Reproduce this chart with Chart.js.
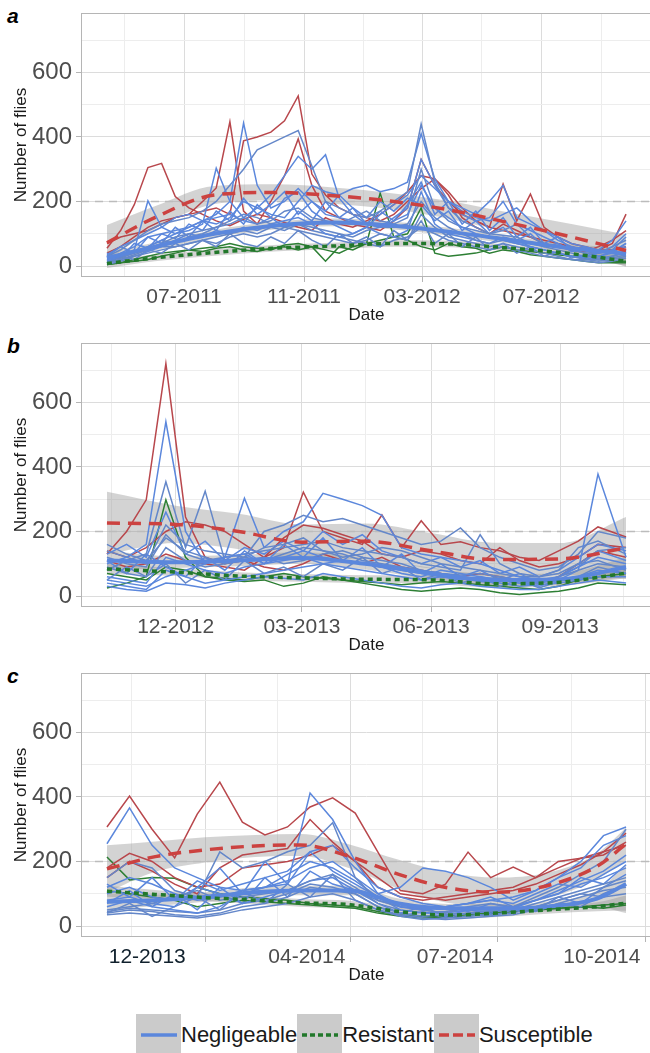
<!DOCTYPE html>
<html>
<head>
<meta charset="utf-8">
<script src="https://cdn.jsdelivr.net/npm/chart.js@4.4.0/dist/chart.umd.min.js"></script>
<style>
  html, body { margin: 0; padding: 0; background: #fff; overflow: hidden; }
  body { width: 650px; height: 1053px; position: relative; font-family: "Liberation Sans", Arial, sans-serif; }
  canvas.panel { position: absolute; left: 0; }
  .tag { position: absolute; left: 7px; font: bold italic 21px "Liberation Sans", Arial, sans-serif; color: #000; line-height: 21px; }
  #legend { position: absolute; left: 136px; top: 1014px; display: flex; align-items: center; font-size: 22px; color: #1a1a1a; }
  #legend .key { width: 45px; height: 42px; background: #cbcbcb; }
  #legend span { line-height: 42px; }
</style>
</head>
<body>
<div class="tag" style="top:5px">a</div>
<div class="tag" style="top:335px">b</div>
<div class="tag" style="top:665px">c</div>
<canvas id="pa" class="panel" width="656" height="330" style="top:0"></canvas>
<canvas id="pb" class="panel" width="656" height="330" style="top:330px"></canvas>
<canvas id="pc" class="panel" width="656" height="330" style="top:660px"></canvas>
<div id="legend">
  <div class="key"><svg width="45" height="42"><line x1="5" x2="41" y1="21" y2="21" stroke="#5b87dc" stroke-width="3.5"/></svg></div><span>Negligeable</span>
  <div class="key"><svg width="45" height="42"><line x1="5" x2="41" y1="21" y2="21" stroke="#22782b" stroke-width="3.5" stroke-dasharray="5 3"/></svg></div><span>Resistant</span>
  <div class="key"><svg width="45" height="42"><line x1="5" x2="41" y1="21" y2="21" stroke="#cc4240" stroke-width="3.5" stroke-dasharray="10 4"/></svg></div><span>Susceptible</span>
</div>
<script>
// ---------- panel a : 2011-2012 ----------
const datesA = ['2011-04-13','2011-04-27','2011-05-11','2011-05-25','2011-06-08','2011-06-22','2011-07-06','2011-07-20',
  '2011-08-03','2011-08-17','2011-08-31','2011-09-14','2011-09-28','2011-10-12','2011-10-26','2011-11-09','2011-11-23',
  '2011-12-07','2011-12-21','2012-01-04','2012-01-18','2012-02-01','2012-02-15','2012-02-29','2012-03-14','2012-03-28',
  '2012-04-11','2012-04-25','2012-05-09','2012-05-23','2012-06-06','2012-06-20','2012-07-04','2012-07-18','2012-08-01',
  '2012-08-15','2012-08-29','2012-09-12','2012-09-26'];
const susA = [
  [55,110,190,305,318,215,180,160,140,125,145,160,150,135,120,110,150,130,120,140,160,190,230,280,270,220,150,120,100,130,110,90,70,60,50,45,60,80,110],
  [40,60,90,120,140,150,160,200,242,447,170,130,200,280,394,250,170,150,130,120,110,140,180,330,250,200,160,140,120,254,140,223,120,90,70,60,50,50,60],
  [70,90,100,110,130,150,160,170,180,160,388,400,415,450,527,285,220,180,160,150,140,160,200,240,270,230,180,140,120,110,100,90,80,70,60,50,50,70,161]
];
const negA = [
  [20,40,60,90,100,110,120,140,160,200,443,250,180,200,240,200,160,150,140,130,120,140,160,250,180,150,120,100,90,80,70,60,50,40,30,30,40,50,60],
  [30,50,80,110,130,140,150,170,200,250,300,360,380,400,420,310,200,180,160,150,170,200,230,440,260,180,140,120,100,110,130,90,70,60,50,40,40,60,80],
  [15,30,50,202,120,100,110,130,303,200,150,180,220,280,340,300,345,210,160,130,120,150,180,330,250,180,160,140,150,200,130,110,90,70,50,40,30,40,70],
  [10,20,35,50,70,90,100,110,120,130,150,130,140,170,180,150,140,130,150,170,140,130,150,300,180,140,120,110,100,95,90,70,60,50,40,30,25,30,40],
  [25,35,45,60,80,100,120,140,150,160,140,130,150,210,230,170,140,120,100,120,160,190,220,280,240,200,180,160,200,250,150,130,110,80,60,50,40,50,90],
  [5,15,30,40,50,60,70,80,90,100,110,100,120,110,130,120,110,100,90,110,120,120,130,200,150,120,100,80,70,80,70,60,50,40,30,20,15,20,30],
  [35,60,80,100,120,150,160,140,130,150,200,180,160,150,200,250,230,220,240,250,230,240,260,410,270,200,170,150,140,160,180,140,110,90,70,60,50,80,140],
  [15,25,40,60,80,70,90,100,120,140,160,150,130,120,110,100,90,80,70,80,100,90,80,160,120,90,80,70,60,70,60,50,40,30,20,20,20,25,35],
  [10,20,30,45,60,80,100,90,110,100,120,110,130,140,150,130,100,90,100,120,100,90,110,230,130,100,90,80,70,90,80,60,50,40,30,25,20,30,50],
  [20,30,40,50,60,60,70,80,70,90,100,90,100,120,130,110,100,90,80,70,60,80,90,120,100,80,70,60,50,60,50,40,30,25,20,15,10,15,25],
  [30,60,40,90,70,120,90,140,110,170,130,190,150,120,170,140,200,150,180,130,170,140,190,260,160,200,130,170,110,150,90,120,70,90,50,60,40,60,100],
  [10,30,20,50,40,70,50,80,60,100,70,60,90,70,110,80,60,100,70,90,60,110,80,140,70,100,60,90,50,70,40,60,30,45,25,35,20,30,45],
  [40,25,70,55,100,85,130,110,170,140,210,160,190,230,160,200,170,220,180,150,200,170,210,190,140,170,110,140,100,120,80,100,60,70,45,50,30,45,70]
];
const resA = [
  [5,10,15,20,30,40,50,45,55,60,50,45,55,60,50,60,15,60,50,70,226,90,80,60,50,70,60,55,40,50,45,35,30,25,20,15,10,10,10],
  [5,10,20,30,40,45,50,55,60,70,60,55,50,65,70,60,50,40,60,70,80,90,100,180,40,30,35,40,50,60,50,45,40,35,30,25,20,15,15]
];
const fitDatesA = ['2011-04-13','2011-06-01','2011-08-01','2011-10-01','2011-12-01','2012-02-01','2012-04-01','2012-06-01','2012-08-01','2012-09-26'];
const fitSusA = [72,150,220,228,218,200,172,132,90,48];
const upSusA  = [127,185,248,253,243,225,200,164,130,98];
const loSusA  = [17,115,192,203,193,175,144,100,50,-2];
const fitNegA = [25,60,100,125,135,125,105,80,55,38];
const upNegA  = [45,72,112,137,147,137,117,92,67,58];
const loNegA  = [5,48,88,113,123,113,93,68,43,18];
const fitResA = [8,25,42,55,62,70,68,55,38,15];
const upResA  = [22,35,52,65,72,80,78,65,48,29];
const loResA  = [-6,15,32,45,52,60,58,45,28,1];
const majorDatesA = ['2011-07-01','2011-11-01','2012-03-01','2012-07-01'];
const minorDatesA = ['2011-05-01','2011-09-01','2012-01-01','2012-05-01','2012-09-01'];
const labelDatesA = majorDatesA;
const labelsA = ['07-2011','11-2011','03-2012','07-2012'];

// ---------- panel b : 2012-2013 ----------
const datesB = ['2012-10-13','2012-10-27','2012-11-10','2012-11-24','2012-12-08','2012-12-22','2013-01-05','2013-01-19',
  '2013-02-02','2013-02-16','2013-03-02','2013-03-16','2013-03-30','2013-04-13','2013-04-27','2013-05-11','2013-05-25',
  '2013-06-08','2013-06-22','2013-07-06','2013-07-20','2013-08-03','2013-08-17','2013-08-31','2013-09-14','2013-09-28','2013-10-18'];
const susB = [
  [130,200,298,720,245,120,100,110,90,80,100,130,110,100,120,90,80,70,60,70,60,50,40,60,100,140,120],
  [140,120,150,200,230,220,200,160,120,150,322,200,180,160,251,150,233,160,168,150,140,120,110,140,170,214,183],
  [110,90,100,130,110,100,90,80,120,180,220,210,190,170,130,120,140,130,110,100,150,110,90,100,120,160,150]
];
const negB = [
  [100,120,160,540,200,100,120,130,100,120,140,120,110,100,90,80,70,60,50,60,50,40,40,50,60,80,70],
  [80,110,130,354,150,325,110,120,150,160,180,140,130,110,100,90,80,70,60,50,60,50,40,60,80,100,90],
  [50,40,30,60,80,100,120,303,150,200,230,318,300,280,250,150,130,120,110,100,80,60,50,60,90,120,100],
  [160,130,110,180,140,120,100,120,200,220,250,230,240,220,200,180,160,170,211,150,120,100,80,90,130,200,180],
  [40,30,20,80,60,40,50,60,70,80,90,100,110,100,90,70,60,80,70,60,50,40,30,50,80,378,120],
  [120,100,90,190,130,110,120,130,140,150,160,170,150,140,130,120,100,90,80,190,100,70,60,80,150,170,130],
  [30,20,15,40,35,25,40,50,60,55,50,70,60,50,40,30,25,35,40,30,25,20,20,30,40,50,40],
  [140,120,100,220,160,140,130,120,110,130,150,140,120,130,150,140,120,100,90,80,70,60,60,70,100,140,150],
  [60,50,40,120,100,80,70,90,100,110,120,100,90,80,70,60,50,60,55,45,40,30,35,40,50,60,60],
  [90,70,60,150,110,90,100,110,120,100,110,130,140,120,110,100,80,70,65,70,60,50,45,60,100,110,80],
  [110,70,130,90,60,120,80,140,100,160,120,180,110,150,90,130,70,100,60,80,50,70,40,60,90,140,110],
  [50,90,60,100,40,80,50,110,70,90,60,100,80,120,70,90,50,70,40,60,30,50,25,45,60,90,70],
  [130,160,120,260,130,170,110,150,130,170,140,200,160,190,140,120,100,120,90,110,70,90,60,80,120,160,140]
];
const resB = [
  [25,40,60,298,120,60,50,45,50,30,40,60,50,40,30,20,15,20,25,20,10,5,10,15,25,40,35],
  [70,60,50,90,80,60,55,50,60,70,60,55,50,45,40,35,40,45,40,35,30,25,20,30,50,60,70]
];
const fitDatesB = ['2012-10-13','2012-12-01','2013-01-15','2013-03-01','2013-04-15','2013-06-01','2013-07-15','2013-09-01','2013-10-18'];
const fitSusB = [226,222,200,167,170,140,113,115,149];
const upSusB  = [323,280,255,222,225,195,165,164,245];
const loSusB  = [129,164,145,112,115,85,61,66,53];
const fitNegB = [110,105,110,118,100,70,50,52,90];
const upNegB  = [140,123,128,136,118,88,68,70,120];
const loNegB  = [80,87,92,100,82,52,32,34,60];
const fitResB = [84,74,62,56,52,50,38,43,71];
const upResB  = [100,86,74,68,64,62,50,55,87];
const loResB  = [68,62,50,44,40,38,26,31,55];
const majorDatesB = ['2012-12-01','2013-03-01','2013-06-01','2013-09-01'];
const minorDatesB = ['2012-10-16','2013-01-15','2013-04-15','2013-07-16','2013-10-16'];
const labelDatesB = majorDatesB;
const labelsB = ['12-2012','03-2013','06-2013','09-2013'];

// ---------- panel c : 2013-2014 ----------
const datesC = ['2013-11-01','2013-11-15','2013-11-29','2013-12-13','2013-12-27','2014-01-10','2014-01-24','2014-02-07',
  '2014-02-21','2014-03-07','2014-03-21','2014-04-04','2014-04-18','2014-05-02','2014-05-16','2014-05-30','2014-06-13',
  '2014-06-27','2014-07-11','2014-07-25','2014-08-08','2014-08-22','2014-09-05','2014-09-19'];
const susC = [
  [307,403,300,211,347,446,322,282,307,369,397,350,230,110,100,130,229,150,183,150,180,210,230,288],
  [180,225,200,150,120,130,180,190,200,220,250,200,120,90,80,90,100,110,120,150,200,210,220,260],
  [150,200,170,130,100,180,220,230,240,330,260,200,150,100,90,80,90,100,110,130,160,190,230,250]
];
const negC = [
  [255,366,250,180,150,120,110,120,130,412,330,200,100,60,50,60,70,80,90,110,150,200,280,307],
  [150,200,180,110,90,230,180,200,230,250,320,150,80,60,50,40,60,70,60,90,120,160,200,300],
  [60,80,60,50,40,60,100,120,160,200,180,140,90,50,40,40,50,50,60,80,100,130,150,180],
  [40,50,45,35,30,40,60,70,90,120,110,100,60,30,20,25,30,35,40,60,80,100,120,140],
  [100,120,90,80,140,110,130,150,170,230,250,180,120,90,70,60,70,80,70,100,130,120,160,200],
  [50,60,70,90,110,80,90,100,110,140,160,120,70,50,40,45,55,50,50,70,90,110,130,150],
  [120,150,130,100,80,90,110,120,140,180,200,150,100,120,180,170,150,120,80,110,150,180,250,280],
  [35,40,35,30,25,35,50,60,70,90,100,80,50,35,25,20,25,30,35,50,70,90,110,120],
  [80,90,70,60,120,100,70,90,110,140,150,110,80,60,55,60,70,90,60,80,110,140,170,220],
  [45,55,50,45,40,50,70,80,100,130,120,100,60,40,30,35,40,45,50,60,80,100,90,100],
  [70,110,60,100,50,120,70,150,90,170,130,110,70,40,60,30,50,40,60,50,90,70,120,160],
  [40,70,30,60,90,50,110,70,130,90,160,80,50,30,45,25,40,30,50,45,70,60,100,130],
  [130,90,150,80,120,180,100,200,130,230,170,130,90,70,50,60,45,70,55,80,100,150,130,190]
];
const resC = [
  [214,143,150,148,120,100,90,85,80,70,65,60,45,35,30,30,35,40,45,50,55,60,55,65],
  [110,100,90,80,60,70,80,75,70,65,60,55,40,30,25,28,30,40,45,50,55,60,65,70]
];
const fitDatesC = ['2013-11-01','2013-12-01','2014-01-01','2014-02-01','2014-03-01','2014-04-01','2014-05-01','2014-06-01',
  '2014-07-01','2014-08-01','2014-09-01','2014-09-19'];
const fitSusC = [177,215,236,248,251,215,160,118,105,125,185,254];
const upSusC  = [250,262,275,282,285,252,205,165,150,165,225,305];
const loSusC  = [104,168,197,214,217,178,115,71,60,85,145,203];
const fitNegC = [75,80,90,105,110,110,70,55,55,60,85,130];
const upNegC  = [100,98,105,120,125,125,85,68,68,75,110,190];
const loNegC  = [50,62,75,90,95,95,55,42,42,45,60,40];
const fitResC = [108,98,88,80,72,66,45,34,40,50,60,71];
const upResC  = [125,112,100,92,84,78,57,46,52,62,74,95];
const loResC  = [91,84,76,68,60,54,33,22,28,38,46,47];
const majorDatesC = ['2014-01-01','2014-04-01','2014-07-01','2014-10-01'];
const minorDatesC = ['2013-11-16','2014-02-15','2014-05-16','2014-08-16'];
const labelDatesC = ['2013-11-26','2014-03-05','2014-06-05','2014-09-04'];
const labelsC = ['12-2013','04-2014','07-2014','10-2014'];

const yTicks = [0, 100, 200, 300, 400, 500, 600, 700];
const threshold = 200;

// ---------- drawing ----------
const FONT = '"Liberation Sans", Arial, sans-serif';
const BLUE = '#5b87dc', BLUE2 = '#6487c9', RED = '#b8474c', GREEN = '#2d7f34';

function day(s) {
  const [y, m, d] = s.split('-').map(Number);
  return Date.UTC(y, m - 1, d) / 864e5;
}

const frame = {
  id: 'frame',
  afterDraw(chart) {
    const { ctx, chartArea: a } = chart;
    ctx.save();
    ctx.strokeStyle = '#b5b5b5';
    ctx.lineWidth = 1;
    ctx.strokeRect(a.left + 0.5, a.top + 0.5, a.width - 1, a.height - 1);
    ctx.restore();
  }
};

function panel(id, p) {
  const first = day(p.dates[0]), last = day(p.dates[p.dates.length - 1]);
  const pad = (last - first) * 0.05;
  const xMin = first - pad, xMax = last + pad;
  const pts = (dates, vals) => vals.map((v, i) => ({ x: day(dates[i]), y: v }));

  // x ticks: majors (grid + tick mark), minors (grid), labels (may sit apart from majors)
  const ticks = [];
  p.major.forEach(d => ticks.push({ v: day(d), kind: 'major', text: '' }));
  p.minor.forEach(d => ticks.push({ v: day(d), kind: 'minor', text: '' }));
  p.labelDates.forEach((d, i) => {
    const t = ticks.find(t => t.v === day(d));
    if (t) t.text = p.labels[i];
    else ticks.push({ v: day(d), kind: 'label', text: p.labels[i] });
  });
  ticks.sort((a, b) => a.v - b.v);

  const ds = [];
  const line = (data, color, width, dash, order, smooth) => ({
    data, borderColor: color, borderWidth: width, borderDash: dash || [], order,
    pointRadius: 0, fill: false, tension: 0,
    cubicInterpolationMode: smooth ? 'monotone' : 'default'
  });
  ds.push(line(pts(p.fitDates, p.fitSus), '#cc4240', 3.5, [13, 8], 0, true));
  ds.push(line(pts(p.fitDates, p.fitRes), '#22782b', 3.5, [5, 4], 1, true));
  ds.push(line(pts(p.fitDates, p.fitNeg), BLUE, 4, [], 2, true));
  p.neg.forEach((v, k) => ds.push(line(pts(p.dates, v), k % 2 ? BLUE2 : BLUE, 1.5, [], 3)));
  p.sus.forEach(v => ds.push(line(pts(p.dates, v), RED, 1.5, [], 4)));
  p.res.forEach(v => ds.push(line(pts(p.dates, v), GREEN, 1.5, [], 5)));
  ds.push(line([{ x: xMin, y: threshold }, { x: xMax, y: threshold }], '#bcbcbc', 1.5, [8, 6], 6));
  [[p.upSus, p.loSus], [p.upNeg, p.loNeg], [p.upRes, p.loRes]].forEach(([u, l]) => {
    ds.push({ data: pts(p.fitDates, u), borderColor: 'rgba(0,0,0,0)', borderWidth: 0, pointRadius: 0,
      backgroundColor: 'rgba(150,150,150,0.42)', fill: '+1', cubicInterpolationMode: 'monotone', order: 7 });
    ds.push({ data: pts(p.fitDates, l), borderColor: 'rgba(0,0,0,0)', borderWidth: 0, pointRadius: 0,
      fill: false, cubicInterpolationMode: 'monotone', order: 7 });
  });

  new Chart(document.getElementById(id), {
    type: 'line',
    data: { datasets: ds },
    plugins: [frame],
    options: {
      responsive: false,
      animation: false,
      events: [],
      layout: { padding: { top: 13, right: 4, left: 0, bottom: 0 } },
      plugins: { legend: { display: false }, tooltip: { enabled: false } },
      scales: {
        x: {
          type: 'linear', min: xMin, max: xMax,
          afterBuildTicks: s => { s.ticks = ticks.map(t => ({ value: t.v })); },
          afterFit: s => { s.height = 53; s.paddingLeft = 0; s.paddingRight = 0; },
          border: { display: false },
          grid: {
            lineWidth: 1, tickLength: 5,
            color: c => ticks[c.index] && ticks[c.index].kind === 'major' ? '#dcdcdc'
              : ticks[c.index] && ticks[c.index].kind === 'minor' ? '#ededed' : 'rgba(0,0,0,0)',
            tickColor: c => ticks[c.index] && ticks[c.index].kind === 'major' ? '#b5b5b5' : 'rgba(0,0,0,0)'
          },
          ticks: {
            autoSkip: false, maxRotation: 0, padding: 3,
            callback: (v, i) => ticks[i] ? ticks[i].text : '',
            color: c => (p.firstDark && c.index === ticks.findIndex(t => t.text)) ? '#10202c' : '#4d4d4d',
            font: { family: FONT, size: 21 }
          },
          title: { display: true, text: 'Date', color: '#1a1a1a', font: { family: FONT, size: 17 }, padding: { top: 0, bottom: 4 } }
        },
        y: {
          min: -34, max: 784,
          afterBuildTicks: s => { s.ticks = yTicks.map(v => ({ value: v })); },
          afterFit: s => { s.width = 81; s.paddingTop = 0; s.paddingBottom = 0; },
          border: { display: false },
          grid: {
            lineWidth: 1, tickLength: 5,
            color: c => c.tick && c.tick.value % 200 === 0 ? '#dcdcdc' : '#ededed',
            tickColor: c => c.tick && c.tick.value % 200 === 0 ? '#b5b5b5' : 'rgba(0,0,0,0)'
          },
          ticks: {
            padding: 4,
            callback: v => v % 200 === 0 ? String(v) : '',
            color: '#4d4d4d',
            font: { family: FONT, size: 24 }
          },
          title: { display: true, text: 'Number of flies', color: '#1a1a1a', font: { family: FONT, size: 17 }, padding: { top: 11, bottom: 0 } }
        }
      }
    }
  });
}

panel('pa', {
  dates: datesA, sus: susA, neg: negA, res: resA,
  fitDates: fitDatesA, fitSus: fitSusA, upSus: upSusA, loSus: loSusA,
  fitNeg: fitNegA, upNeg: upNegA, loNeg: loNegA, fitRes: fitResA, upRes: upResA, loRes: loResA,
  major: majorDatesA, minor: minorDatesA, labelDates: labelDatesA, labels: labelsA
});
panel('pb', {
  dates: datesB, sus: susB, neg: negB, res: resB,
  fitDates: fitDatesB, fitSus: fitSusB, upSus: upSusB, loSus: loSusB,
  fitNeg: fitNegB, upNeg: upNegB, loNeg: loNegB, fitRes: fitResB, upRes: upResB, loRes: loResB,
  major: majorDatesB, minor: minorDatesB, labelDates: labelDatesB, labels: labelsB
});
panel('pc', {
  dates: datesC, sus: susC, neg: negC, res: resC,
  fitDates: fitDatesC, fitSus: fitSusC, upSus: upSusC, loSus: loSusC,
  fitNeg: fitNegC, upNeg: upNegC, loNeg: loNegC, fitRes: fitResC, upRes: upResC, loRes: loResC,
  major: majorDatesC, minor: minorDatesC, labelDates: labelDatesC, labels: labelsC, firstDark: true
});
</script>
</body>
</html>
